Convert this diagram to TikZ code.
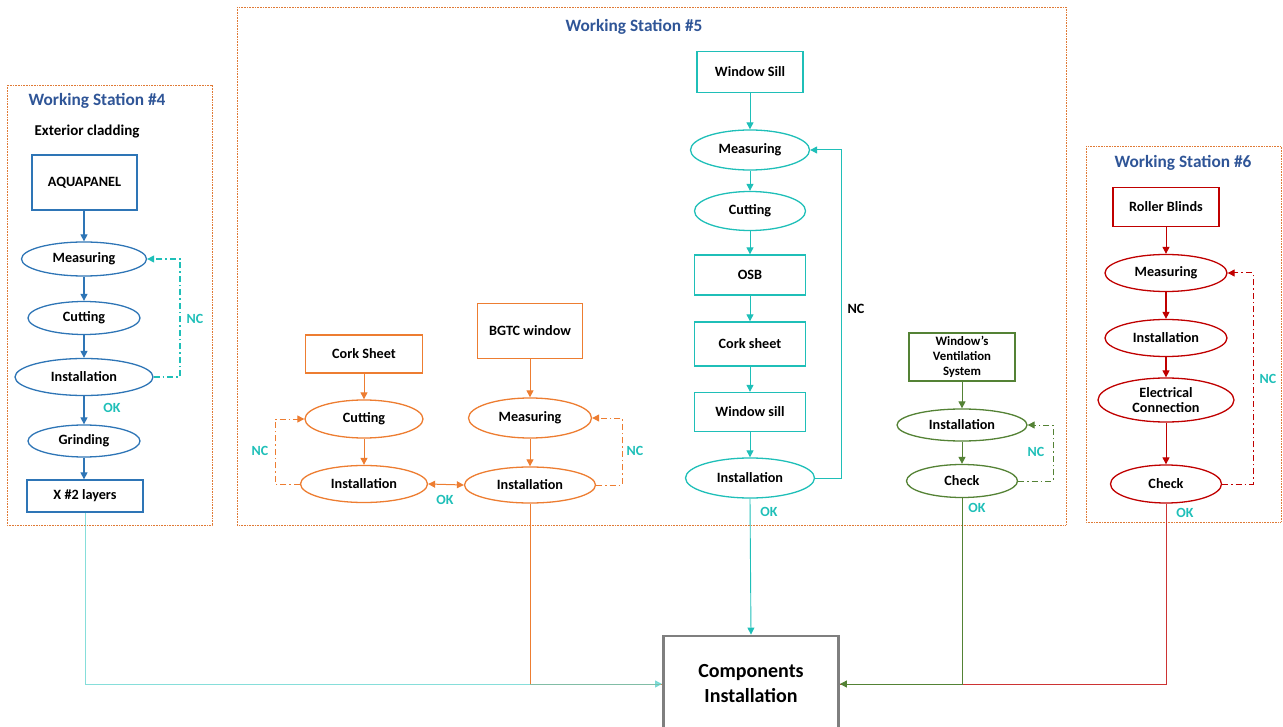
\documentclass[tikz,border=0pt]{standalone}
\usepackage{fontspec}
\setmainfont{Carlito}
\usetikzlibrary{shapes.geometric,arrows.meta}
\definecolor{wsblue}{HTML}{2E75B6}
\definecolor{titleblue}{HTML}{2F5597}
\definecolor{tealc}{HTML}{1FBFB8}
\definecolor{lightteal}{HTML}{5ED3CE}
\definecolor{orangec}{HTML}{ED7D31}
\definecolor{greenc}{HTML}{548235}
\definecolor{redc}{HTML}{C00000}
\definecolor{frameor}{HTML}{E07A35}
\definecolor{compgray}{HTML}{7F7F7F}
\begin{document}
\begin{tikzpicture}[x=1pt,y=-1pt,
  font=\bfseries\fontsize{14.2}{16}\selectfont,
  tip/.style={-{Triangle[length=7pt,width=7pt]}},
  frame/.style={draw=frameor, line width=0.9pt, dash pattern=on 0.8pt off 0.8pt},
  title/.style={text=titleblue, font=\bfseries\fontsize{17.3}{19}\selectfont},
  rbox/.style={draw, rectangle, line width=1.3pt, inner sep=0pt, align=center},
  ell/.style={draw, ellipse, line width=1.3pt, inner sep=0pt, align=center},
  flow/.style={tip, line width=1.2pt},
  ncloop/.style={tip, line width=1.2pt, dash pattern=on 6pt off 3pt on 1.5pt off 3pt},
  lbl/.style={text=tealc, font=\bfseries\fontsize{14}{16}\selectfont},
  outline/.style={line width=0.9pt}
]
\useasboundingbox (0,0) rectangle (1283,727);

% ---------------- frames of the working stations
\draw[frame] (7,85) rectangle (212,525);
\draw[frame] (237,7) rectangle (1066,525);
\draw[frame] (1086,146) rectangle (1281,522);
\node[title] (t4) at (97,101) {Working Station \#4};
\node[title] (t5) at (634,27) {Working Station \#5};
\node[title] (t6) at (1183,163) {Working Station \#6};

% ---------------- station 4: exterior cladding
\node[font=\bfseries\fontsize{15}{17}\selectfont] (ext) at (87,132) {Exterior cladding};
\begin{scope}[every node/.append style={draw=wsblue}]
\node[rbox, minimum width=105, minimum height=55] (aqua) at (84.5,182.5) {AQUAPANEL};
\node[ell, minimum width=125, minimum height=34] (meas4) at (84,259) {Measuring};
\node[ell, minimum width=112, minimum height=33] (cut4) at (84,318) {Cutting};
\node[ell, minimum width=138, minimum height=37] (inst4) at (84,377) {Installation};
\node[ell, minimum width=112, minimum height=32] (grind4) at (84,441) {Grinding};
\node[rbox, minimum width=116, minimum height=32] (lay4) at (85,496) {X \#2 layers};
\end{scope}
\begin{scope}[wsblue]
\draw[flow] (aqua.south -| meas4.north) -- (meas4);
\draw[flow] (meas4) -- (cut4);
\draw[flow] (cut4) -- (inst4);
\draw[flow] (inst4) -- (grind4);
\draw[flow] (grind4) -- (lay4.north -| grind4.south);
\end{scope}
\draw[ncloop, tealc] (inst4.east) -- (180,377) |- (meas4.east);
\node[lbl] (nc4) at (195,319) {NC};
\node[lbl] (ok4) at (112,408) {OK};

% ---------------- station 5: cork sheet and BGTC window
\begin{scope}[every node/.append style={draw=orangec}]
\node[rbox, minimum width=117, minimum height=38] (cork) at (364,354) {Cork Sheet};
\node[ell, minimum width=118, minimum height=38] (cut5) at (364,419) {Cutting};
\node[ell, minimum width=127, minimum height=37] (inst5a) at (364,484) {Installation};
\node[rbox, minimum width=105, minimum height=55] (bgtc) at (530,331) {BGTC window};
\node[ell, minimum width=123, minimum height=40] (meas5) at (530,418) {Measuring};
\node[ell, minimum width=131, minimum height=36] (inst5b) at (530,485) {Installation};
\end{scope}
\begin{scope}[orangec]
\draw[flow, line width=1pt] (cork) -- (cut5);
\draw[flow, line width=1pt] (cut5) -- (inst5a);
\draw[flow, line width=1pt] (bgtc) -- (meas5);
\draw[flow, line width=1pt] (meas5) -- (inst5b);
\draw[{Triangle[length=7pt,width=7pt]}-{Triangle[length=7pt,width=7pt]}, line width=1pt] (inst5a.east) -- (inst5b.west);
\draw[ncloop, line width=1pt] (inst5a.west) -- (275,484) |- (cut5.west);
\draw[ncloop, line width=1pt] (inst5b.east) -- (622,485) |- (meas5.east);
\end{scope}
\node[lbl] (nc5a) at (260,451) {NC};
\node[lbl] (nc5b) at (635,451) {NC};
\node[lbl] (ok5a) at (445,500) {OK};

% ---------------- station 5: window sill
\begin{scope}[every node/.append style={draw=tealc}]
\node[rbox, minimum width=106, minimum height=41] (sill) at (750,72) {Window Sill};
\node[ell, minimum width=119, minimum height=40] (meas5c) at (750,150) {Measuring};
\node[ell, minimum width=111, minimum height=39] (cut5c) at (750,211) {Cutting};
\node[rbox, minimum width=111, minimum height=40] (osb) at (750,275) {OSB};
\node[rbox, minimum width=111, minimum height=44] (corks) at (750,344) {Cork sheet};
\node[rbox, minimum width=111, minimum height=39] (wsill) at (750,412) {Window sill};
\node[ell, minimum width=129, minimum height=40] (inst5c) at (750,478) {Installation};
\end{scope}
\begin{scope}[tealc]
\draw[flow, line width=1pt] (sill) -- (meas5c);
\draw[flow, line width=1pt] (meas5c) -- (cut5c);
\draw[flow, line width=1pt] (cut5c) -- (osb);
\draw[flow, line width=1pt] (osb) -- (corks);
\draw[flow, line width=1pt] (corks) -- (wsill);
\draw[flow, line width=1pt] (wsill) -- (inst5c);
\draw[tip, line width=1pt] (inst5c.east) -- (841,478) |- (meas5c.east);
\end{scope}
\node (nc5c) at (856,309) {NC};
\node[lbl] (ok5c) at (769,512) {OK};

% ---------------- station 5: window's ventilation system
\begin{scope}[every node/.append style={draw=greenc}]
\node[rbox, minimum width=106, minimum height=48, font=\bfseries\fontsize{12.8}{15}\selectfont] (vent) at (962,357) {Window’s\\Ventilation\\System};
\node[ell, minimum width=130, minimum height=32] (inst5v) at (962,425) {Installation};
\node[ell, minimum width=111, minimum height=33] (check5) at (962,481) {Check};
\end{scope}
\begin{scope}[greenc]
\draw[flow, line width=1pt] (vent) -- (inst5v);
\draw[flow, line width=1pt] (inst5v) -- (check5);
\draw[ncloop, line width=1pt] (check5.east) -- (1053,481) |- (inst5v.east);
\end{scope}
\node[lbl] (nc5v) at (1036,452) {NC};
\node[lbl] (ok5v) at (977,508) {OK};

% ---------------- station 6: roller blinds
\begin{scope}[every node/.append style={draw=redc}]
\node[rbox, minimum width=106, minimum height=39] (roll) at (1166,207) {Roller Blinds};
\node[ell, minimum width=122, minimum height=37] (meas6) at (1166,273) {Measuring};
\node[ell, minimum width=122, minimum height=37] (inst6) at (1166,338) {Installation};
\node[ell, minimum width=136, minimum height=44, font=\bfseries\fontsize{14.2}{15.5}\selectfont] (elec) at (1166,400) {Electrical\\Connection};
\node[ell, minimum width=111, minimum height=38] (check6) at (1166,484) {Check};
\end{scope}
\begin{scope}[redc]
\draw[flow, line width=1pt] (roll) -- (meas6);
\draw[flow] (meas6) -- (inst6);
\draw[flow] (inst6) -- (elec);
\draw[flow, line width=1pt] (elec) -- (check6);
\draw[ncloop, line width=1pt] (check6.east) -- (1253,484) |- (meas6.east);
\end{scope}
\node[lbl] (nc6) at (1268,379) {NC};
\node[lbl] (ok6) at (1185,513) {OK};

% ---------------- components installation and the collecting lines
\node[draw=compgray, line width=2.8pt, minimum width=175, minimum height=96, inner sep=0pt, align=center,
      font=\bfseries\fontsize{20}{25}\selectfont] (comp) at (751,684) {Components\\Installation};
\draw[outline, orangec] (inst5b.south) |- (comp.west);
\draw[outline, lightteal, opacity=0.75, tip] (lay4.south) |- (comp.west);
\draw[outline, tealc, tip] (inst5c.south) -- (comp.north);
\draw[outline, redc!80] (check6.south) |- (comp.east);
\draw[outline, greenc, tip] (check5.south) |- (comp.east);
\end{tikzpicture}
\end{document}
